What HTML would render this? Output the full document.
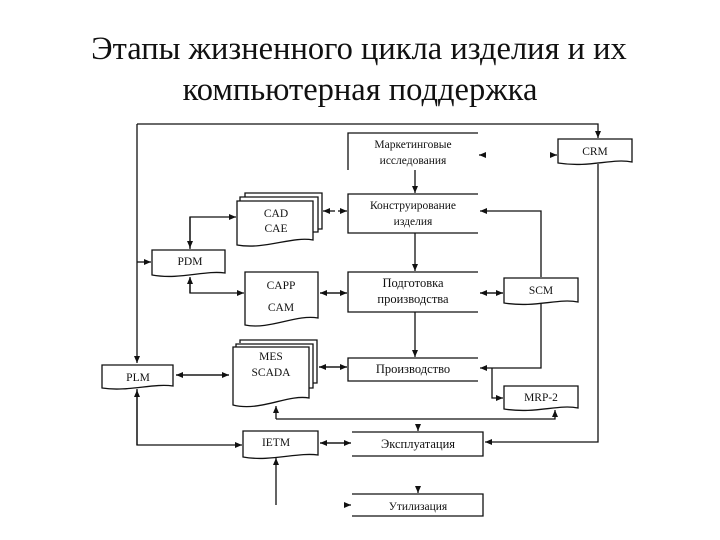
<!DOCTYPE html>
<html><head><meta charset="utf-8"><style>
body{margin:0;background:#fff}
svg{display:block}
text{font-family:"Liberation Serif",serif;fill:#111}
</style></head><body>
<svg width="720" height="540" viewBox="0 0 720 540" xmlns="http://www.w3.org/2000/svg">
<defs><marker id="a" markerWidth="8" markerHeight="8" refX="7" refY="4" orient="auto" markerUnits="userSpaceOnUse"><path d="M0,1 L7,4 L0,7z" fill="#111"/></marker></defs>
<text x="359" y="59" font-size="32.5" text-anchor="middle">Этапы жизненного цикла изделия и  их</text>
<text x="360" y="100" font-size="32.5" text-anchor="middle">компьютерная поддержка</text>
<g stroke="#111" stroke-width="1.3" fill="none">
<path d="M348,170 V133 H478"/>
<path d="M478,194 H348 V233 H478"/>
<path d="M478,272 H348 V312 H478"/>
<path d="M478,358 H348 V381 H478"/>
<path d="M352,432 H483 V456 H352"/>
<path d="M352,494 H483 V516 H352"/>
<path d="M558,139 H632 V162 C612,158 590,168 558,163 Z"/>
<path d="M504,278 H578 V302 C558,298 536,308 504,303 Z"/>
<path d="M504,386 H578 V408 C558,404 536,414 504,409 Z"/>
<path d="M152,250 H225 V273 C205,270 180,280 152,275 Z"/>
<path d="M102,365 H173 V386 C153,383 128,392 102,388 Z"/>
<path d="M243,431 H318 V455 C298,452 270,462 243,457 Z"/>
<path d="M245,272 H318 V318 C296,314 270,330 245,325 Z"/>
<path d="M245,197 V193 H322 V229 H318"/>
<path d="M240,201 V197 H318 V232 H313"/>
<path d="M237,201 H313 V240 C292,236 265,250 237,245 Z"/>
<path d="M240,343 V340 H317 V383 H313"/>
<path d="M236,347 V344 H313 V388 H309"/>
<path d="M233,347 H309 V398 C288,394 260,412 233,405 Z"/>
<path d="M137,124 H598 V138" marker-end="url(#a)"/>
<path d="M137,124 V363" marker-end="url(#a)"/>
<path d="M137,262 H151" marker-end="url(#a)"/>
<path d="M415,170 V193" marker-end="url(#a)"/>
<path d="M415,233 V271" marker-end="url(#a)"/>
<path d="M415,312 V357" marker-end="url(#a)"/>
<path d="M418,425 V431" marker-end="url(#a)"/>
<path d="M418,488 V493" marker-end="url(#a)"/>
<path d="M346,505 H351" marker-end="url(#a)"/>
<path d="M484,155 H479" marker-end="url(#a)"/>
<path d="M552,155 H557" marker-end="url(#a)"/>
<path d="M541,277 V211 H480" marker-end="url(#a)"/>
<path d="M480,293 H503" marker-end="url(#a)"/>
<path d="M503,293 H480" marker-end="url(#a)"/>
<path d="M541,304 V368 H480" marker-end="url(#a)"/>
<path d="M492,368 V398 H503" marker-end="url(#a)"/>
<path d="M276,419 H555 V410" marker-end="url(#a)"/>
<path d="M276,419 V406" marker-end="url(#a)"/>
<path d="M598,164 V442 H485" marker-end="url(#a)"/>
<path d="M137,389 V445 H242" marker-end="url(#a)"/>
<path d="M137,445 V390" marker-end="url(#a)"/>
<path d="M276,505 V458" marker-end="url(#a)"/>
<path d="M320,443 H351" marker-end="url(#a)"/>
<path d="M351,443 H320" marker-end="url(#a)"/>
<path d="M319,367 H347" marker-end="url(#a)"/>
<path d="M347,367 H319" marker-end="url(#a)"/>
<path d="M176,375 H229" marker-end="url(#a)"/>
<path d="M229,375 H176" marker-end="url(#a)"/>
<path d="M320,293 H347" marker-end="url(#a)"/>
<path d="M347,293 H320" marker-end="url(#a)"/>
<path d="M335,211 H323" marker-end="url(#a)"/>
<path d="M338,211 H347" marker-end="url(#a)"/>
<path d="M190,249 V217 H236" marker-end="url(#a)"/>
<path d="M190,217 V248" marker-end="url(#a)"/>
<path d="M190,278 V293 H244" marker-end="url(#a)"/>
<path d="M190,293 V277" marker-end="url(#a)"/>
</g>
<g font-size="11.5" text-anchor="middle">
<text x="413" y="148">Маркетинговые</text>
<text x="413" y="164">исследования</text>
<text x="413" y="209">Конструирование</text>
<text x="413" y="225">изделия</text>
<text x="413" y="287" font-size="12.5">Подготовка</text>
<text x="413" y="303" font-size="12.5">производства</text>
<text x="413" y="373" font-size="12.5">Производство</text>
<text x="418" y="448" font-size="12.5">Эксплуатация</text>
<text x="418" y="510">Утилизация</text>
<text x="595" y="155">CRM</text>
<text x="541" y="294">SCM</text>
<text x="541" y="401">MRP-2</text>
<text x="190" y="265">PDM</text>
<text x="138" y="381">PLM</text>
<text x="276" y="446">IETM</text>
<text x="276" y="217">CAD</text>
<text x="276" y="232">CAE</text>
<text x="281" y="289">CAPP</text>
<text x="281" y="311">CAM</text>
<text x="271" y="360">MES</text>
<text x="271" y="376">SCADA</text>
</g>
</svg>
</body></html>
